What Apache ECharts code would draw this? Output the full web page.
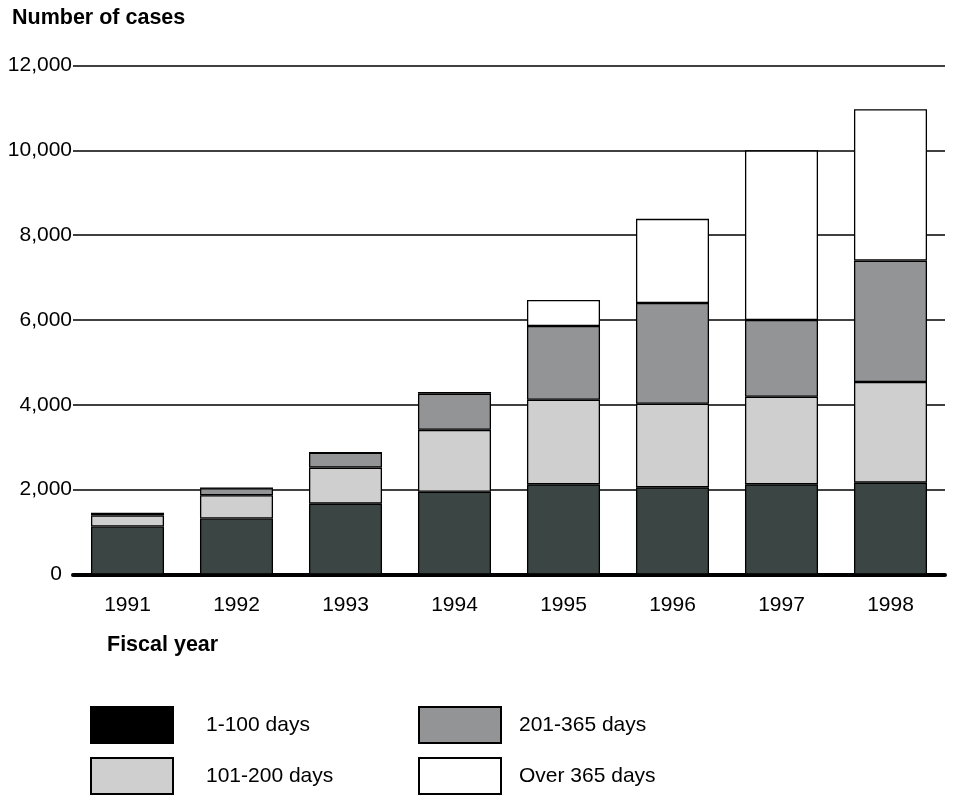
<!DOCTYPE html>
<html>
<head>
<meta charset="utf-8">
<script src="https://cdn.jsdelivr.net/npm/echarts@6/dist/echarts.min.js"></script>
<style>html,body{margin:0;padding:0;background:#fff}#c{width:955px;height:795px}</style>
</head>
<body>
<div id="c"></div>
<script>
const years = ['1991','1992','1993','1994','1995','1996','1997','1998'];
const days1to100 = [1130, 1320, 1670, 1950, 2125, 2055, 2125, 2165];
const days101to200 = [260, 550, 850, 1460, 1995, 1970, 2065, 2375];
const days201to365 = [50, 165, 350, 850, 1740, 2375, 1810, 2860];
const over365 = [0, 0, 0, 45, 610, 1985, 4000, 3570];
const yTicks = [0, 2000, 4000, 6000, 8000, 10000, 12000];
const seriesNames = ['1-100 days', '101-200 days', '201-365 days', 'Over 365 days'];

const FONT = '"Liberation Sans", Arial, Helvetica, sans-serif';
const colors = ['#3b4543', '#cfcfcf', '#939496', '#ffffff'];
const dataSets = [days1to100, days101to200, days201to365, over365];

const chart = echarts.init(document.getElementById('c'), null, {renderer: 'canvas'});

function legendAt(name, left, top, gap, iconColor) {
  const item = {name: name};
  if (iconColor) item.itemStyle = {color: iconColor};
  return {
    data: [item], left: left, top: top, padding: 0, icon: 'rect',
    itemWidth: 82, itemHeight: 36, selectedMode: false,
    textStyle: {fontFamily: FONT, fontSize: 21, color: '#000', padding: [0, 0, 2, gap - 5]}
  };
}

chart.setOption({
  animation: false,
  backgroundColor: '#fff',
  title: [
    {text: 'Number of cases', left: 12, top: 7, padding: 0,
     textStyle: {fontFamily: FONT, fontSize: 21.5, fontWeight: 'bold', color: '#000'}},
    {text: 'Fiscal year', left: 107, top: 634, padding: 0,
     textStyle: {fontFamily: FONT, fontSize: 21.5, fontWeight: 'bold', color: '#000'}}
  ],
  legend: [
    legendAt(seriesNames[0], 90, 706, 33, '#000000'),
    legendAt(seriesNames[1], 90, 757, 33),
    legendAt(seriesNames[2], 418, 706, 18),
    legendAt(seriesNames[3], 418, 757, 18)
  ],
  grid: {left: 73, right: 10, top: 65.5, bottom: 220.5, containLabel: false},
  xAxis: {
    type: 'category',
    data: years,
    axisLine: {show: true, lineStyle: {color: '#000', width: 4}},
    axisTick: {show: false},
    axisLabel: {fontFamily: FONT, fontSize: 21, color: '#000', margin: 20}
  },
  yAxis: {
    type: 'value',
    min: yTicks[0], max: yTicks[yTicks.length - 1], interval: yTicks[1] - yTicks[0],
    axisLine: {show: false},
    axisTick: {show: false},
    splitLine: {show: true, lineStyle: {color: '#000', width: 1.5}},
    axisLabel: {fontFamily: FONT, fontSize: 21, color: '#000', margin: 1,
      formatter: v => v === 0 ? '{z|0}' : v.toLocaleString('en-US'),
      rich: {z: {fontFamily: FONT, fontSize: 21, color: '#000', padding: [0, 10, 0, 0]}}}
  },
  series: seriesNames.map((n, i) => ({
    name: n,
    type: 'bar',
    stack: 'total',
    barCategoryGap: '33%',
    data: dataSets[i],
    itemStyle: {color: colors[i], borderColor: '#000', borderWidth: 1.3}
  }))
});
</script>
</body>
</html>
